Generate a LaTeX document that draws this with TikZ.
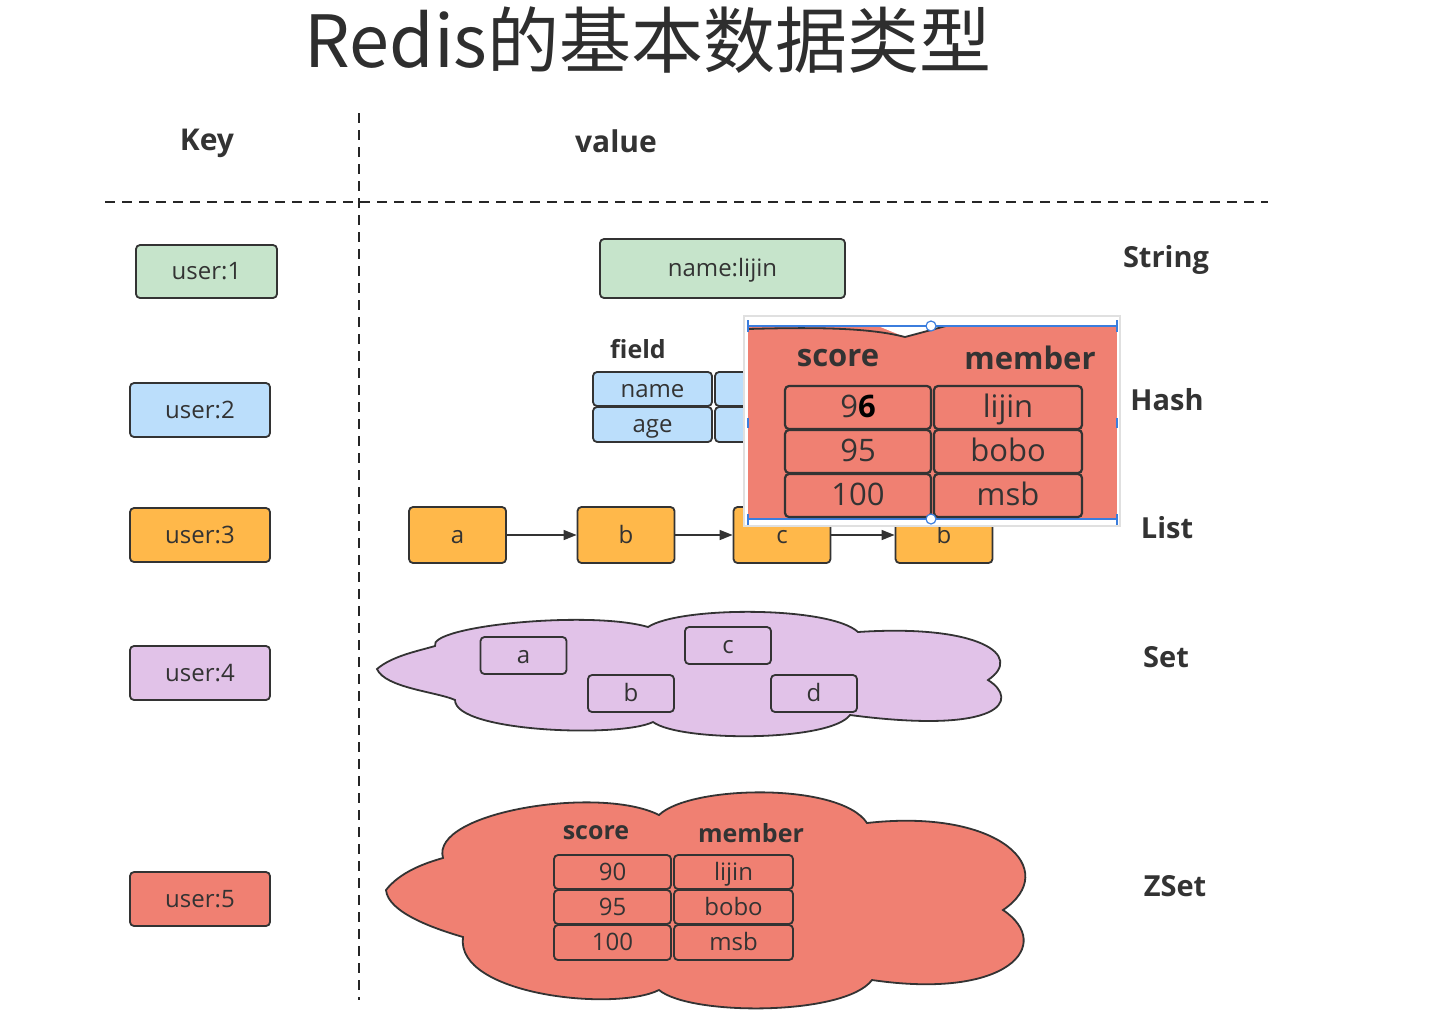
\documentclass[tikz,border=0pt]{standalone}
\usepackage{fontspec}
\setmainfont{Open Sans}
\newfontfamily\cjkfont{Noto Sans CJK SC}
\usetikzlibrary{arrows.meta}
\definecolor{dark}{HTML}{333333}
\definecolor{cgreen}{HTML}{C6E4CB}
\definecolor{cblue}{HTML}{BBDEFB}
\definecolor{corange}{HTML}{FFB84A}
\definecolor{cpurple}{HTML}{E1C2E8}
\definecolor{cred}{HTML}{F08072}
\definecolor{selblue}{HTML}{3B7DDD}
\newcommand\labfont{\fontsize{24}{28}\selectfont}
\newcommand\bigcell{\fontsize{31}{36}\selectfont}
\newcommand\headfont{\fontsize{29}{34}\selectfont\bfseries}
\begin{document}
\begin{tikzpicture}[x=1pt,y=-1pt,
  rbox/.style={draw=dark, line width=1.8pt, rounded corners=4pt, inner sep=0pt, font=\labfont, text=dark, text height=18pt, text depth=2pt},
  keybox/.style={rbox, minimum width=140pt, minimum height=54pt},
  listbox/.style={rbox, fill=corange, minimum width=97pt, minimum height=56pt},
  setbox/.style={rbox, fill=cpurple, minimum width=86pt, minimum height=37pt},
  hcell/.style={rbox, fill=cblue, minimum width=119pt, minimum height=34pt},
  zcell/.style={rbox, fill=cred, minimum height=34pt},
  ocell/.style={rbox, fill=cred, minimum height=43pt, line width=2.2pt, font=\bigcell, text height=23pt, text depth=2.5pt},
  head/.style={font=\headfont, text=dark},
  divider/.style={draw=black!85, line width=1.8pt, dash pattern=on 10pt off 7pt},
  arr/.style={draw=dark, line width=1.5pt, -{Triangle[length=13pt,width=10pt]}},
  cloudline/.style={draw=dark, line width=1.8pt}
]
\useasboundingbox (0,0) rectangle (1437,1013);

% title
\node[font=\cjkfont\fontsize{72}{80}\selectfont, text=dark!90!black] (title) at (648,40) {Redis的基本数据类型};

% dividers
\coordinate (vtop) at (359,113);
\coordinate (vbot) at (359,1000);
\coordinate (hl) at (105,202);
\coordinate (hr) at (1268,202);
\draw[divider] (vtop) -- (vbot);
\draw[divider] (hl) -- (hr);

\node[head, font=\fontsize{30}{34}\selectfont\bfseries] (keyh) at (207,143) {Key};
\node[head, font=\fontsize{30}{34}\selectfont\bfseries] (valh) at (616,141) {value};

% keys
\node[keybox, fill=cgreen, minimum width=141pt, minimum height=53pt] (k1) at (206.5,271.5) {user:1};
\node[keybox, fill=cblue] (k2) at (200,410) {user:2};
\node[keybox, fill=corange] (k3) at (200,535) {user:3};
\node[keybox, fill=cpurple] (k4) at (200,673) {user:4};
\node[keybox, fill=cred] (k5) at (200,899) {user:5};

% type labels
\node[head] (tstr) at (1166,260) {String};
\node[head] (thash) at (1167,400) {Hash};
\node[head] (tlist) at (1167,528) {List};
\node[head] (tset) at (1166,657) {Set};
\node[head] (tzset) at (1175,886) {ZSet};

% string
\node[rbox, fill=cgreen, minimum width=245pt, minimum height=59pt] (sval) at (722.5,268.5) {name:lijin};

% hash
\node[head, font=\fontsize{25}{30}\selectfont\bfseries] (field) at (638,349) {field};
\node[hcell] (hname) at (652.5,389) {name};
\node[hcell, minimum height=35pt] (hage) at (652.5,424.5) {age};
\node[hcell, minimum width=120pt] (hv1) at (775,389) {};
\node[hcell, minimum width=120pt, minimum height=35pt] (hv2) at (775,424.5) {};

% list
\node[listbox] (la) at (457.5,535) {a};
\node[listbox] (lb) at (626,535) {b};
\node[listbox] (lc) at (782,535) {c};
\node[listbox] (lb2) at (944,535) {b};
\draw[arr] (la) -- (lb);
\draw[arr] (lb) -- (lc);
\draw[arr] (lc) -- (lb2);

% set cloud
\draw[cloudline, fill=cpurple]
  (377,669) .. controls (392,656) and (418,651) .. (435,646)
  .. controls (428,626) and (590,610) .. (648,627)
  .. controls (680,606) and (830,606) .. (858,632)
  .. controls (978,624) and (1025,655) .. (988,680)
  .. controls (1020,700) and (1002,735) .. (850,715)
  .. controls (830,742) and (680,742) .. (653,722)
  .. controls (620,738) and (455,732) .. (455,700)
  .. controls (438,692) and (385,688) .. cycle;
\node[setbox] (sa) at (523.5,655.5) {a};
\node[setbox] (sc) at (728,645.5) {c};
\node[setbox] (sb) at (631,693.5) {b};
\node[setbox] (sd) at (814,693.5) {d};

% zset cloud
\draw[cloudline, fill=cred]
  (386,890) .. controls (400,872) and (425,863) .. (443,858)
  .. controls (430,812) and (600,785) .. (659,815)
  .. controls (690,785) and (840,782) .. (867,823)
  .. controls (1000,808) and (1062,870) .. (1003,910)
  .. controls (1055,945) and (1008,1000) .. (872,980)
  .. controls (845,1016) and (690,1016) .. (659,990)
  .. controls (615,1012) and (455,995) .. (463,937)
  .. controls (432,928) and (388,912) .. cycle;
\node[head, font=\fontsize{25}{30}\selectfont\bfseries] (zsh) at (596,833) {score};
\node[head, font=\fontsize{25}{30}\selectfont\bfseries] (zmh) at (751,833) {member};
\node[zcell, minimum width=117pt] (z11) at (612.5,872) {90};
\node[zcell, minimum width=119pt] (z12) at (733.5,872) {lijin};
\node[zcell, minimum width=117pt] (z21) at (612.5,907) {95};
\node[zcell, minimum width=119pt] (z22) at (733.5,907) {bobo};
\node[zcell, minimum width=117pt, minimum height=35pt] (z31) at (612.5,942.5) {100};
\node[zcell, minimum width=119pt, minimum height=35pt] (z32) at (733.5,942.5) {msb};

% pasted overlay (screenshot of the zset table)
\fill[black!12] (743,315) rectangle (1121,527);
\fill[white] (745,317) rectangle (1119,525);
\fill[cred] (748,326) rectangle (1117,520);
\fill[white] (878,326) -- (905,337) -- (946,326) -- cycle;
\draw[dark, line width=1.8pt] (748,329) .. controls (820,327) and (870,328) .. (905,337) -- (946,326);
\draw[selblue, line width=1.2pt] (748,326) -- (1117,326);
\draw[selblue, line width=1.2pt] (748,519) -- (1117,519);
\draw[selblue, line width=1.2pt] (748,320) -- (748,332) (1117,320) -- (1117,332) (748,514) -- (748,525) (1117,514) -- (1117,525);
\node[head, font=\fontsize{31}{36}\selectfont\bfseries] (osh) at (838,358) {score};
\node[head, font=\fontsize{31}{36}\selectfont\bfseries] (omh) at (1030,358) {member};
\node[ocell, minimum width=146pt] (o11) at (858,407.5) {9{\bfseries\color{black}6}};
\node[ocell, minimum width=148pt] (o12) at (1008,407.5) {lijin};
\node[ocell, minimum width=146pt] (o21) at (858,451.5) {95};
\node[ocell, minimum width=148pt] (o22) at (1008,451.5) {bobo};
\node[ocell, minimum width=146pt] (o31) at (858,495.5) {100};
\node[ocell, minimum width=148pt] (o32) at (1008,495.5) {msb};
\node[circle, draw=selblue, fill=white, line width=1.2pt, minimum size=10pt, inner sep=0pt] (hdt) at (931,326) {};
\node[circle, draw=selblue, fill=white, line width=1.2pt, minimum size=10pt, inner sep=0pt] (hdb) at (931,519) {};
\draw[selblue, line width=1.5pt] (748,418) -- (748,428) (1117,418) -- (1117,428);
\end{tikzpicture}
\end{document}
